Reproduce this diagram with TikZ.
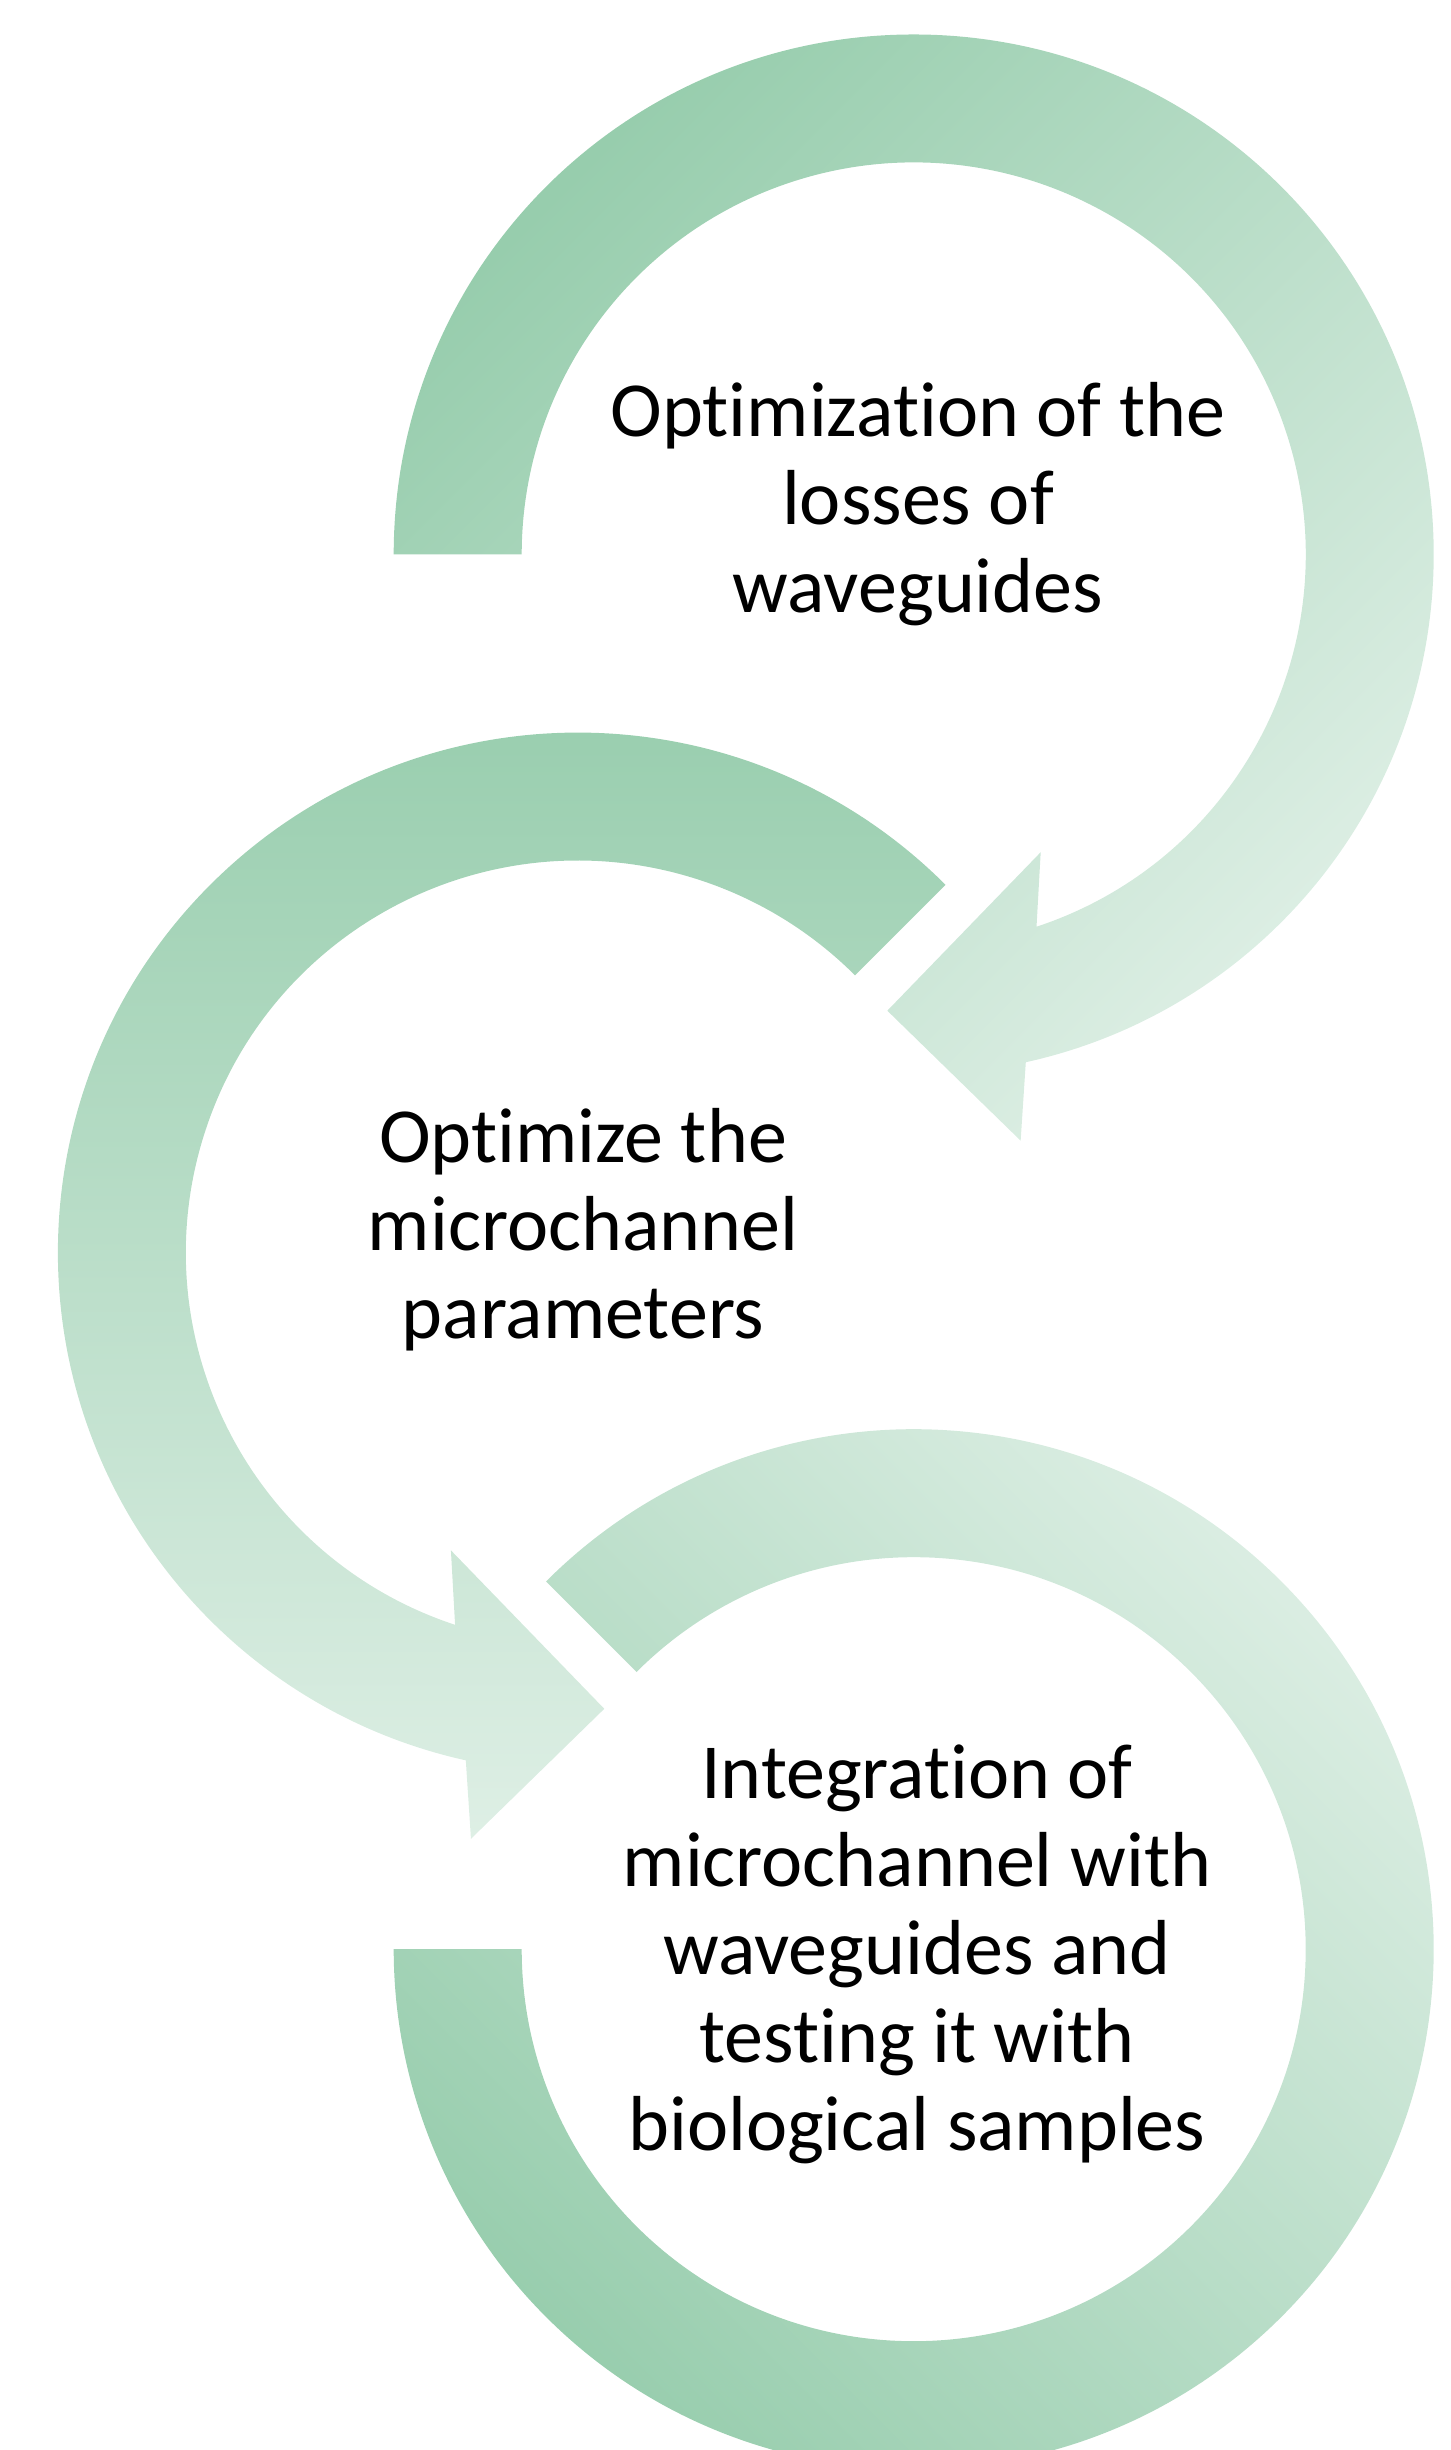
\documentclass[tikz,border=0pt]{standalone}
\usepackage{fontspec}
\setmainfont{Carlito}[Ligatures={NoCommon}]
\usetikzlibrary{calc}
\definecolor{gdark}{HTML}{97CDAD}
\definecolor{glight}{HTML}{DEEFE5}
\tikzset{
  ringpart/.style={draw=none},
  steptext/.style={align=center, font=\fontsize{78}{88}\selectfont, text=black, inner sep=0pt}
}
\begin{document}
\begin{tikzpicture}[x=1pt,y=1pt]
\useasboundingbox (0,0) rectangle (1451,2450);
\clip (0,0) rectangle (1451,2450);
\coordinate (C1) at (913.7,1895.5);
\coordinate (C2) at (577.9,1197.4);
\coordinate (C3) at (913.7,500.8);
% arc 1
\path[ringpart, top color=gdark, bottom color=glight, shading angle=45]
  ($(C1)+(180:520)$) arc[start angle=180, end angle=-77.55, radius=520]
  -- ($(C1)+(-79.66:595.9)$) -- ($(C1)+(-93.31:457)$) -- ($(C1)+(-66.9:323.7)$)
  -- ($(C1)+(-71.74:392)$) arc[start angle=-71.74, end angle=180, radius=392] -- cycle;
% arc 2
\path[ringpart, top color=gdark, bottom color=glight]
  ($(C2)+(45:520)$) arc[start angle=45, end angle=257.55, radius=520]
  -- ($(C2)+(259.66:595.9)$) -- ($(C2)+(273.31:457)$) -- ($(C2)+(246.9:323.7)$)
  -- ($(C2)+(251.74:392)$) arc[start angle=251.74, end angle=45, radius=392] -- cycle;
% arc 3
\path[ringpart, top color=glight, bottom color=gdark, shading angle=-45]
  ($(C3)+(135:520)$) arc[start angle=135, end angle=-180, radius=520]
  -- ($(C3)+(180:392)$) arc[start angle=-180, end angle=135, radius=392] -- cycle;
\node[steptext] (t1) at (918,1946) {Optimization of the\\losses of\\waveguides};
\node[steptext] (t2) at (583,1220) {Optimize the\\microchannel\\parameters};
\node[steptext] (t3) at (917,496) {Integration of\\microchannel with\\waveguides and\\testing it with\\biological samples};
\end{tikzpicture}
\end{document}
